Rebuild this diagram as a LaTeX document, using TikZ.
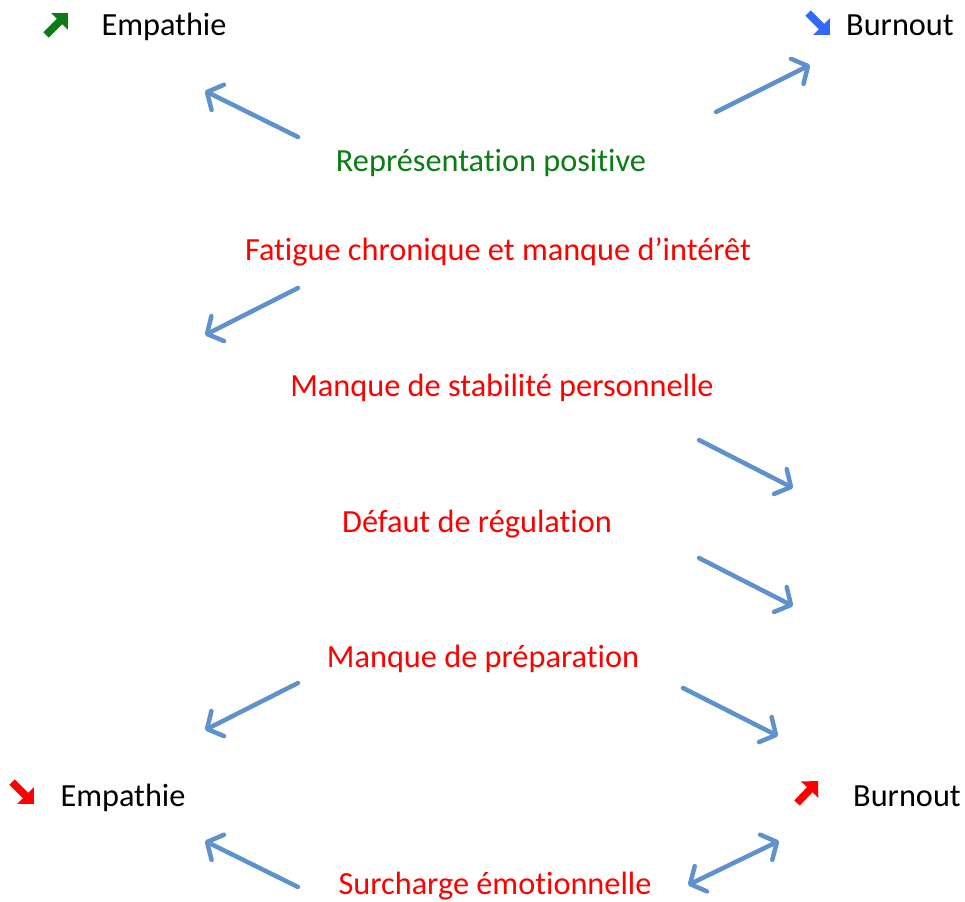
\documentclass[tikz,border=0pt]{standalone}
\usepackage{fontspec}
\setmainfont[Ligatures=NoCommon]{Carlito}
\usetikzlibrary{arrows.meta}

\definecolor{linkblue}{RGB}{95,145,205}
\definecolor{posgreen}{RGB}{10,125,20}
\definecolor{iconblue}{RGB}{50,105,250}

\begin{document}
\begin{tikzpicture}[x=1pt,y=-1pt,
    label/.style={anchor=base,inner sep=0pt,font=\fontsize{32.3}{38}\selectfont},
    cause/.style={label,text=red},
    link/.style={draw=linkblue,line width=4.5pt,line cap=round,
        -{Straight Barb[length=12pt,width=28pt,round]}},
    twolink/.style={link,{Straight Barb[length=12pt,width=28pt,round]}-{Straight Barb[length=12pt,width=28pt,round]}},
    icon/.style={line width=7.5pt,-{Triangle[length=12pt,width=23pt]}}]

    % Fix the page to the size of the reference
    \useasboundingbox (0,0) rectangle (965,901);

    % Outcomes at the four corners
    \node[label] (empTop) at (164,36) {Empathie};
    \node[label] (burnTop) at (900,36) {Burnout};
    \node[label] (empBot) at (123,806) {Empathie};
    \node[label] (burnBot) at (907,806) {Burnout};

    % Small trend arrows beside the outcomes
    \draw[icon,posgreen] (46,35) -- (68,13);
    \draw[icon,iconblue] (808,13) -- (830,35);
    \draw[icon,red] (12,782) -- (34,804);
    \draw[icon,red] (797,803) -- (818,781);

    % Factors in the middle
    \node[label,text=posgreen] (repr) at (491,172) {Représentation positive};
    \node[cause] (fatigue) at (498,260) {Fatigue chronique et manque d’intérêt};
    \node[cause] (stabil) at (502,396) {Manque de stabilité personnelle};
    \node[cause] (regul) at (477,532) {Défaut de régulation};
    \node[cause] (prepa) at (483,667) {Manque de préparation};
    \node[cause] (surch) at (495,894) {Surcharge émotionnelle};

    % Ends of the arrows
    \coordinate (a1s) at (298,137); \coordinate (a1e) at (205,91);
    \coordinate (a2s) at (716,112); \coordinate (a2e) at (810,65);
    \coordinate (a3s) at (298,288); \coordinate (a3e) at (205,335);
    \coordinate (a4s) at (699,440); \coordinate (a4e) at (793,488);
    \coordinate (a5s) at (699,558); \coordinate (a5e) at (793,606);
    \coordinate (a6s) at (298,683); \coordinate (a6e) at (205,730);
    \coordinate (a7s) at (683,688); \coordinate (a7e) at (778,736);
    \coordinate (a8s) at (298,887); \coordinate (a8e) at (205,841);
    \coordinate (a9s) at (688,885); \coordinate (a9e) at (779,841);

    % Draw the arrows
    \draw[link] (a1s) -- (a1e);
    \draw[link] (a2s) -- (a2e);
    \draw[link] (a3s) -- (a3e);
    \draw[link] (a4s) -- (a4e);
    \draw[link] (a5s) -- (a5e);
    \draw[link] (a6s) -- (a6e);
    \draw[link] (a7s) -- (a7e);
    \draw[link] (a8s) -- (a8e);
    \draw[twolink] (a9s) -- (a9e);

\end{tikzpicture}
\end{document}
